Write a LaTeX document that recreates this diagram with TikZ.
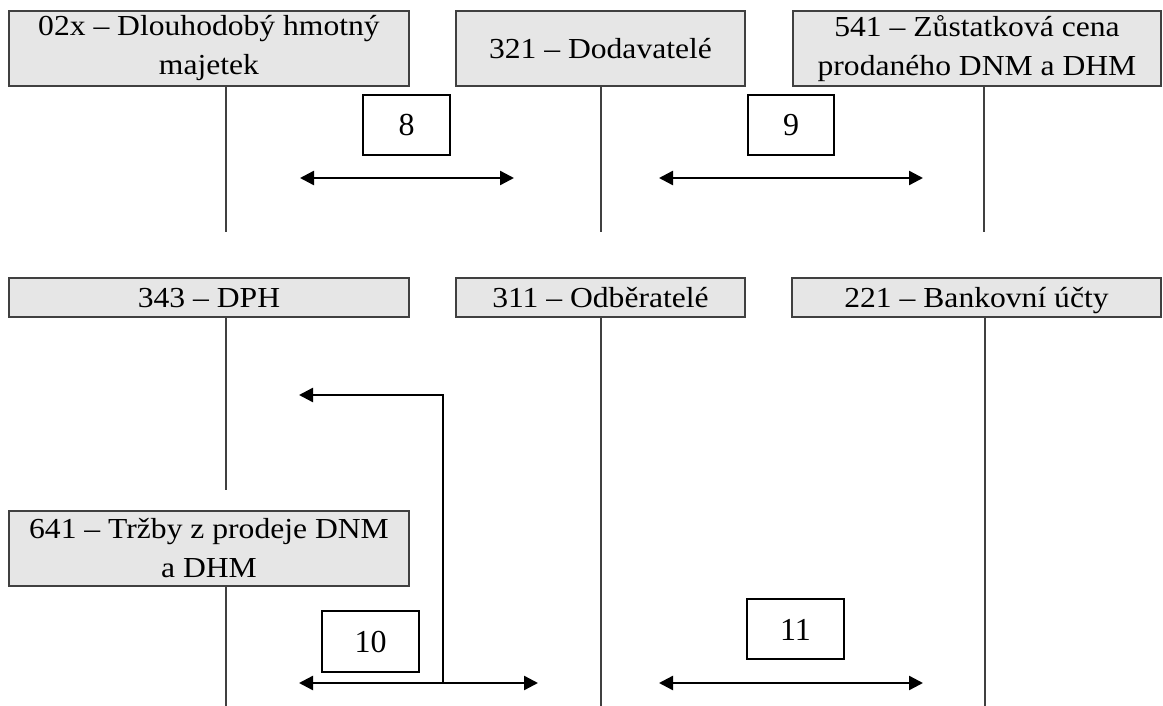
\documentclass[tikz,border=0pt]{standalone}
\usepackage{fontspec}
\setmainfont{Liberation Serif}[FakeStretch=1.09]
\newfontfamily\numfont{Liberation Serif}
\usetikzlibrary{arrows.meta}

\definecolor{boxfill}{HTML}{E6E6E6}
\definecolor{boxline}{HTML}{404040}

\tikzset{
  account/.style={draw=boxline, line width=1.5pt, fill=boxfill, inner sep=0pt,
    align=center, font=\fontsize{29}{39}\selectfont},
  oneline/.style={text height=20pt, text depth=0pt},
  tline/.style={draw=boxline, line width=1.4pt},
  numbox/.style={draw=black, line width=1.8pt, fill=white, inner sep=0pt,
    font=\numfont\fontsize{32}{38}\selectfont, text height=22pt, text depth=0pt},
  flow/.style={draw=black, line width=2.4pt},
  tip/.style={-{Triangle[length=14pt,width=14pt]}},
  bothtips/.style={{Triangle[length=14pt,width=14pt]}-{Triangle[length=14pt,width=14pt]}}
}

\begin{document}
\begin{tikzpicture}[x=1pt, y=-1pt]
\useasboundingbox (0,0) rectangle (1163,706);

% ---- first row of T-accounts
\node[account, minimum width=400pt, minimum height=75pt] (dnm) at (209,48.5)
  {02x -- Dlouhodobý hmotný\\majetek};
\node[account, oneline, minimum width=289pt, minimum height=75pt] (dod) at (600.5,48.5)
  {321 -- Dodavatelé};
\node[account, minimum width=368pt, minimum height=75pt] (zc) at (977,48.5)
  {541 -- Zůstatková cena\\prodaného DNM a DHM};

\coordinate (dnmEnd) at (226,232);
\coordinate (dodEnd) at (601,232);
\coordinate (zcEnd)  at (984,232);
\draw[tline] (dnm.south -| dnmEnd) -- (dnmEnd);
\draw[tline] (dod.south -| dodEnd) -- (dodEnd);
\draw[tline] (zc.south -| zcEnd) -- (zcEnd);

% ---- second row
\node[account, oneline, minimum width=400pt, minimum height=39pt] (dph) at (209,297.5)
  {343 -- DPH};
\node[account, oneline, minimum width=289pt, minimum height=39pt] (odb) at (600.5,297.5)
  {311 -- Odběratelé};
\node[account, oneline, minimum width=369pt, minimum height=39pt] (bank) at (976.5,297.5)
  {221 -- Bankovní účty};

\coordinate (dphEnd)  at (226,490);
\coordinate (odbEnd)  at (601,706);
\coordinate (bankEnd) at (985,706);
\draw[tline] (dph.south -| dphEnd) -- (dphEnd);
\draw[tline] (odb.south -| odbEnd) -- (odbEnd);
\draw[tline] (bank.south -| bankEnd) -- (bankEnd);

% ---- third row
\node[account, minimum width=400pt, minimum height=75pt] (trz) at (209,548.5)
  {641 -- Tržby z prodeje DNM\\a DHM};
\coordinate (trzEnd) at (226,706);
\draw[tline] (trz.south -| trzEnd) -- (trzEnd);

% ---- numbered transactions
\node[numbox, minimum width=87pt, minimum height=60pt] (n8)  at (406.5,125) {8};
\node[numbox, minimum width=86pt, minimum height=60pt] (n9)  at (791,125)   {9};
\node[numbox, minimum width=97pt, minimum height=61pt] (n10) at (370.5,641.5) {10};
\node[numbox, minimum width=97pt, minimum height=60pt] (n11) at (795.5,629) {11};

% ---- flows
\coordinate (f8l) at (300,178);  \coordinate (f8r) at (514,178);
\coordinate (f9l) at (659,178);  \coordinate (f9r) at (923,178);
\coordinate (f10l) at (299,683); \coordinate (f10r) at (538,683);
\coordinate (f10m) at (443,683); \coordinate (f10t) at (299,395);
\coordinate (f11l) at (659,683); \coordinate (f11r) at (923,683);

\draw[flow, bothtips] (f8l) -- (f8r);
\draw[flow, bothtips] (f9l) -- (f9r);
\draw[flow, bothtips] (f10l) -- (f10r);
\draw[flow, tip] (f10m) |- (f10t);
\draw[flow, bothtips] (f11l) -- (f11r);
\end{tikzpicture}
\end{document}
